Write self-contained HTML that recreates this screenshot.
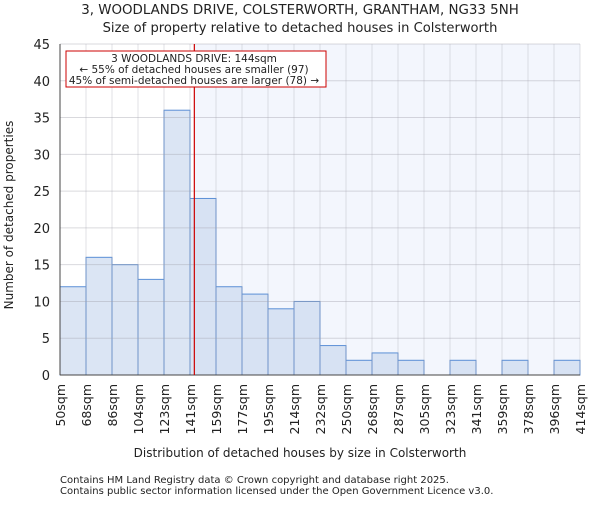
<!DOCTYPE html>
<html><head><meta charset="utf-8"><style>
body{margin:0;background:#fff}
svg text{font-family:"DejaVu Sans","Liberation Sans",sans-serif;fill:#222}
</style></head><body>
<svg width="600" height="500" xmlns="http://www.w3.org/2000/svg">
<text x="300" y="14" font-size="13.4" text-anchor="middle">3, WOODLANDS DRIVE, COLSTERWORTH, GRANTHAM, NG33 5NH</text>
<text x="300" y="32" font-size="13.1" text-anchor="middle">Size of property relative to detached houses in Colsterworth</text>
<rect id="shade" y="44" height="331" fill="#f3f6fd"/>
<g id="bars"></g>
<g id="grid"></g>
<line x1="60" y1="375" x2="580" y2="375" stroke="#444"/>
<line x1="60" y1="44" x2="60" y2="375" stroke="#444"/>
<g id="yticks"></g><g id="xticks"></g>
<line id="marker" y1="44" y2="375" stroke="#cc0000" stroke-width="1.2"/>
<rect x="66" y="51" width="260" height="36" fill="#fff" stroke="#cc0000"/>
<text x="194" y="62" font-size="10.5" text-anchor="middle">3 WOODLANDS DRIVE: 144sqm</text>
<text x="194" y="73" font-size="10.5" text-anchor="middle">← 55% of detached houses are smaller (97)</text>
<text x="194" y="84" font-size="10.5" text-anchor="middle">45% of semi-detached houses are larger (78) →</text>
<text transform="translate(13,215) rotate(-90)" font-size="12" text-anchor="middle">Number of detached properties</text>
<text x="300" y="457" font-size="12" text-anchor="middle">Distribution of detached houses by size in Colsterworth</text>
<text x="60" y="483" font-size="10">Contains HM Land Registry data © Crown copyright and database right 2025.</text>
<text x="60" y="494" font-size="10">Contains public sector information licensed under the Open Government Licence v3.0.</text>
</svg>
<script>
const binLabels=["50sqm","68sqm","86sqm","104sqm","123sqm","141sqm","159sqm","177sqm","195sqm","214sqm","232sqm","250sqm","268sqm","287sqm","305sqm","323sqm","341sqm","359sqm","378sqm","396sqm","414sqm"];
const counts=[12,16,15,13,36,24,12,11,9,10,4,2,3,2,0,2,0,2,0,2];
const yTicks=[0,5,10,15,20,25,30,35,40,45];
const propertySize=144;
const binEdges=[50,68,86,104,123,141,159,177,195,214,232,250,268,287,305,323,341,359,378,396,414];
const NS="http://www.w3.org/2000/svg";
const x0=60,x1=580,yb=375,yt=44,ymax=45;
const bw=(x1-x0)/counts.length;
const X=i=>x0+i*bw;
const Y=v=>yb-(v/ymax)*(yb-yt);
function sizeToX(s){for(let i=0;i<binEdges.length-1;i++){if(s<=binEdges[i+1])return X(i)+bw*(s-binEdges[i])/(binEdges[i+1]-binEdges[i]);}return x1;}
function mk(t,a,p){const e=document.createElementNS(NS,t);for(const k in a)e.setAttribute(k,a[k]);p.appendChild(e);return e;}
const mx=sizeToX(propertySize);
const sh=document.getElementById('shade');sh.setAttribute('x',mx);sh.setAttribute('width',x1-mx);
const m=document.getElementById('marker');m.setAttribute('x1',mx);m.setAttribute('x2',mx);
const bars=document.getElementById('bars');
counts.forEach((c,i)=>{if(c<=0)return;
const r=mk('rect',{x:X(i),y:Y(c),width:bw,height:yb-Y(c),fill:'rgba(200,215,238,0.65)',stroke:'#5b8fd6','stroke-width':1},bars);

});
const grid=document.getElementById('grid'),yt_=document.getElementById('yticks'),xt=document.getElementById('xticks');
yTicks.forEach(v=>{
const l=mk('line',{x1:x0,x2:x1,y1:Y(v),y2:Y(v),stroke:'rgba(160,160,170,0.4)'},grid);


const t=mk('text',{x:50,y:Y(v)+5,'font-size':13,'text-anchor':'end'},yt_);t.textContent=v;

});
binLabels.forEach((s,i)=>{
const l=mk('line',{x1:X(i),x2:X(i),y1:yt,y2:yb,stroke:'rgba(160,160,170,0.3)'},grid);


const t=mk('text',{transform:`translate(${X(i)+5},384) rotate(-90)`,'font-size':12.5,'text-anchor':'end'},xt);t.textContent=s;

});
</script>
</body></html>
